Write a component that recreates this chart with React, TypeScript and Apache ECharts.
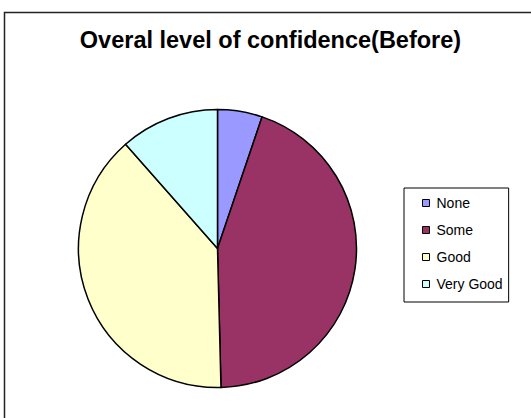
import React, { useEffect, useRef } from "react";
import * as echarts from "echarts";

const categories = ["None", "Some", "Good", "Very Good"];
const values = [5.2, 44.4, 38.9, 11.5];
const colors = ["#9999FF", "#993366", "#FFFFCC", "#CCFFFF"];
const titleText = "Overal level of confidence(Before)";

export default function App() {
  const ref = useRef<HTMLDivElement>(null);
  useEffect(() => {
    if (!ref.current) return;
    const chart = echarts.init(ref.current, null, { renderer: "svg" });
    chart.setOption({
      animation: false,
      backgroundColor: "#fff",
      title: {
        text: titleText,
        left: 270.5,
        textAlign: "center",
        top: 28,
        padding: 0,
        textStyle: { fontFamily: "Liberation Sans, Arial", fontWeight: "bold", fontSize: 23.5, color: "#000" },
      },
      graphic: [
        {
          type: "rect",
          shape: { x: 4.5, y: 12.5, width: 600, height: 500 },
          style: { fill: "none", stroke: "#222", lineWidth: 1.5 },
          silent: true,
          z: 100,
        },
      ],
      legend: {
        orient: "vertical",
        left: 404,
        top: 188,
        padding: [8, 6, 11, 18],
        itemWidth: 7,
        itemHeight: 7,
        itemGap: 13,
        borderColor: "#000",
        borderWidth: 1,
        icon: "rect",
        itemStyle: { borderColor: "#000", borderWidth: 1 },
        textStyle: { fontFamily: "Liberation Sans, Arial", fontSize: 14, color: "#000", lineHeight: 14, padding: [0, 0, 0, 2] },
        data: categories,
      },
      series: [
        {
          type: "pie",
          center: [217.5, 248.5],
          radius: 139,
          startAngle: 90,
          clockwise: true,
          label: { show: false },
          labelLine: { show: false },
          emphasis: { disabled: true },
          itemStyle: { borderColor: "#000", borderWidth: 1.5 },
          data: categories.map((c, i) => ({ name: c, value: values[i], itemStyle: { color: colors[i] } })),
        },
      ],
    });
    return () => chart.dispose();
  }, []);
  return <div ref={ref} style={{ position: "fixed", left: 0, top: 0, width: 531, height: 418 }} />;
}
